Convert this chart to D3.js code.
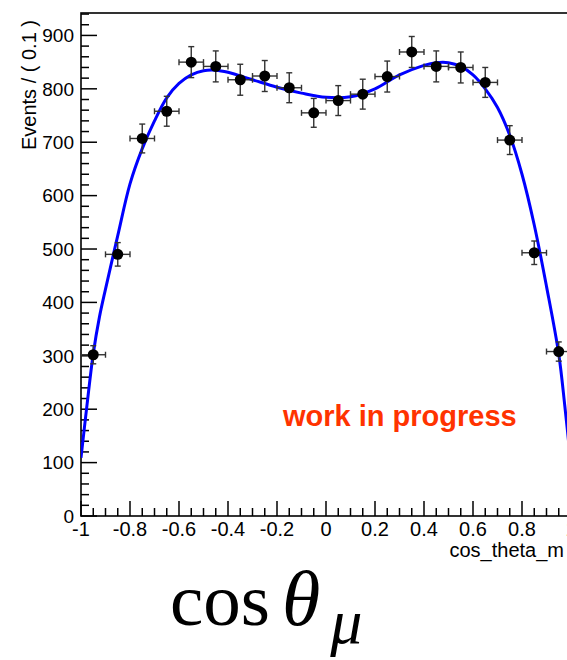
<!DOCTYPE html>
<html>
<head>
<meta charset="utf-8">
<script src="https://cdn.jsdelivr.net/npm/d3@7"></script>
<style>
  html, body { margin: 0; padding: 0; background: #fff; }
  svg { display: block; }
</style>
</head>
<body>
<svg id="chart" width="567" height="660"></svg>
<script>
// ---- data ----
const binCenters = [-0.95, -0.85, -0.75, -0.65, -0.55, -0.45, -0.35, -0.25, -0.15, -0.05,
                     0.05, 0.15, 0.25, 0.35, 0.45, 0.55, 0.65, 0.75, 0.85, 0.95];
const counts     = [302, 490, 707, 758, 850, 842, 817, 824, 802, 755,
                    778, 790, 823, 869, 842, 840, 812, 704, 493, 308];
const countErrs  = [17, 22, 27, 28, 29, 29, 29, 29, 28, 27,
                    28, 28, 29, 29, 29, 29, 28, 27, 22, 18];
const binHalfWidth = 0.05;

const fitX = [-1.0, -0.975, -0.95, -0.925, -0.9, -0.85, -0.8, -0.75, -0.7, -0.65, -0.6, -0.55,
              -0.5, -0.45, -0.4, -0.3, -0.2, -0.1, 0.0, 0.1, 0.2, 0.3, 0.4, 0.45, 0.5,
               0.55, 0.6, 0.65, 0.7, 0.75, 0.8, 0.85, 0.9, 0.95, 0.975, 1.0];
const fitY = [109, 210, 304, 372, 425, 525, 622, 688, 740, 783, 810, 826,
              834, 835, 831, 817, 803, 792, 784, 785, 800, 826, 844, 849, 849,
              842, 826, 800, 765, 713, 640, 545, 430, 303, 205, 95];

const xTickValues = [-1, -0.8, -0.6, -0.4, -0.2, 0, 0.2, 0.4, 0.6, 0.8, 1];
const xTickLabels = ["-1", "-0.8", "-0.6", "-0.4", "-0.2", "0", "0.2", "0.4", "0.6", "0.8", "1"];
const yTickValues = [0, 100, 200, 300, 400, 500, 600, 700, 800, 900];
const yTickLabels = ["0", "100", "200", "300", "400", "500", "600", "700", "800", "900"];

const xDomain = [-1, 1];
const yDomain = [0, 942];

(function () {
// ---- layout ----
const svg = d3.select("#chart");
const L = 81, R = 571, T = 13, B = 516;

const x = d3.scaleLinear().domain(xDomain).range([L, R]);
const y = d3.scaleLinear().domain(yDomain).range([B, T]);

svg.append("defs").append("clipPath").attr("id", "frameclip")
  .append("rect").attr("x", L).attr("y", T)
  .attr("width", R - L).attr("height", B - T);

const font = "'Liberation Sans', Arial, Helvetica, sans-serif";

// ---- frame ----
svg.append("rect")
  .attr("x", L).attr("y", T)
  .attr("width", R - L).attr("height", B - T)
  .attr("fill", "none").attr("stroke", "#000").attr("stroke-width", 1.6);

// ---- y axis ticks ----
const yAxisG = svg.append("g");
const yMinor = d3.range(0, 942, 20);
yAxisG.selectAll("line").data(yMinor).join("line")
  .attr("x1", L).attr("x2", d => L + (d % 100 === 0 ? 16 : 8))
  .attr("y1", d => y(d)).attr("y2", d => y(d))
  .attr("stroke", "#000").attr("stroke-width", 1.5);
yAxisG.selectAll("text").data(yTickValues).join("text")
  .attr("x", L - 7).attr("y", d => y(d))
  .attr("dy", "0.36em")
  .attr("text-anchor", "end")
  .attr("font-family", font).attr("font-size", 19)
  .text((d, i) => yTickLabels[i]);

// ---- x axis ticks ----
const xAxisG = svg.append("g");
const xMinor = d3.range(0, 41).map(i => -1 + i * 0.05);
xAxisG.selectAll("line").data(xMinor).join("line")
  .attr("x1", d => x(d)).attr("x2", d => x(d))
  .attr("y1", B)
  .attr("y2", (d, i) => B - (i % 4 === 0 ? 15 : 8))
  .attr("stroke", "#000").attr("stroke-width", 1.5);
xAxisG.selectAll("text").data(xTickValues).join("text")
  .attr("x", d => x(d)).attr("y", B + 20)
  .attr("text-anchor", "middle")
  .attr("font-family", font).attr("font-size", 20)
  .text((d, i) => xTickLabels[i]);

// ---- axis titles ----
svg.append("text")
  .attr("transform", "translate(36,20) rotate(-90)")
  .attr("text-anchor", "end")
  .attr("font-family", font).attr("font-size", 20)
  .text("Events / ( 0.1 )");

svg.append("text")
  .attr("x", 564).attr("y", 557)
  .attr("text-anchor", "end")
  .attr("font-family", font).attr("font-size", 20)
  .text("cos_theta_m");

// ---- fit curve ----
const plot = svg.append("g").attr("clip-path", "url(#frameclip)");
const fitPts = fitX.map((v, i) => [v, fitY[i]]);
plot.append("path")
  .datum(fitPts)
  .attr("d", d3.line().x(d => x(d[0])).y(d => y(d[1])).curve(d3.curveCatmullRom.alpha(0.5)))
  .attr("fill", "none").attr("stroke", "#0000ff").attr("stroke-width", 3);

// ---- data points with error bars ----
const pts = binCenters.map((c, i) => ({ c, n: counts[i], e: countErrs[i] }));
const eb = plot.append("g").attr("stroke", "#333").attr("stroke-width", 1.4);
const cap = 3;
pts.forEach(p => {
  const cx = x(p.c), cy = y(p.n);
  const x0 = x(p.c - binHalfWidth), x1 = x(p.c + binHalfWidth);
  const y0 = y(p.n - p.e), y1 = y(p.n + p.e);
  eb.append("line").attr("x1", x0).attr("x2", x1).attr("y1", cy).attr("y2", cy);
  eb.append("line").attr("x1", x0).attr("x2", x0).attr("y1", cy - cap).attr("y2", cy + cap);
  eb.append("line").attr("x1", x1).attr("x2", x1).attr("y1", cy - cap).attr("y2", cy + cap);
  eb.append("line").attr("x1", cx).attr("x2", cx).attr("y1", y0).attr("y2", y1);
  eb.append("line").attr("x1", cx - cap).attr("x2", cx + cap).attr("y1", y0).attr("y2", y0);
  eb.append("line").attr("x1", cx - cap).attr("x2", cx + cap).attr("y1", y1).attr("y2", y1);
});
plot.selectAll("circle").data(pts).join("circle")
  .attr("cx", d => x(d.c)).attr("cy", d => y(d.n))
  .attr("r", 5.5).attr("fill", "#000");

// ---- annotation ----
svg.append("text")
  .attr("x", 283).attr("y", 426)
  .attr("font-family", font).attr("font-weight", "bold").attr("font-size", 29)
  .attr("fill", "#ff3300")
  .text("work in progress");

// ---- big formula label ----
const big = svg.append("text")
  .attr("x", 170).attr("y", 625)
  .attr("font-family", "'Liberation Serif', 'Times New Roman', serif")
  .attr("font-size", 75).attr("fill", "#000");
big.append("tspan").text("cos");
big.append("tspan").attr("dx", 12).attr("font-style", "italic").attr("font-size", 78).text("θ");
big.append("tspan").attr("dx", 10).attr("dy", 18).attr("font-style", "italic").attr("font-size", 64).text("μ");
})();
</script>
</body>
</html>
